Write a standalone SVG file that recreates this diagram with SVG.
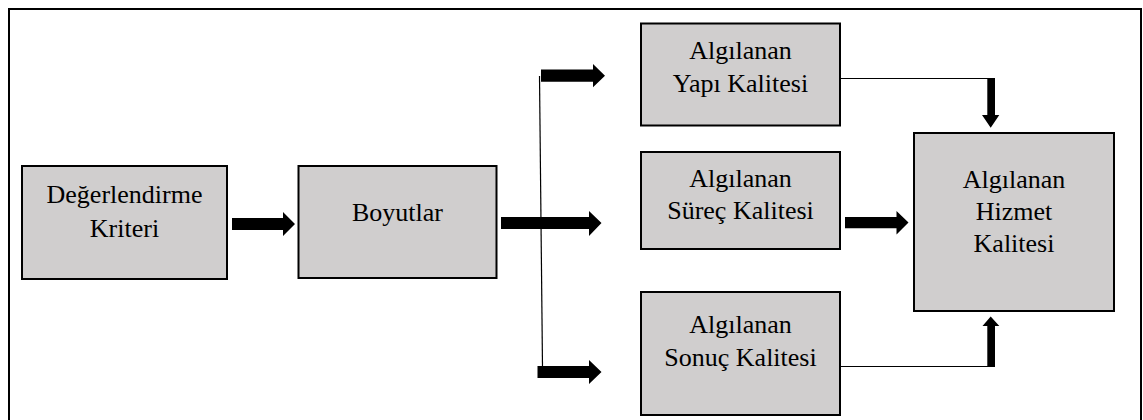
<svg xmlns="http://www.w3.org/2000/svg" width="1143" height="420" viewBox="0 0 1143 420">
  <style>
    .box { fill: #d0cece; stroke: #000; stroke-width: 2; }
    .lbl { font-size: 26px; fill: #000; text-anchor: middle; }
    .thin { stroke: #000; stroke-width: 1.2; fill: none; }
    .blk { fill: #000; stroke: none; }
  </style>
  <rect width="1143" height="420" fill="#fff"/>
  <!-- frame -->
  <rect x="9" y="9" width="1132" height="440" fill="none" stroke="#000" stroke-width="2"/>

  <g font-family="Liberation Serif, DejaVu Serif, serif">
  <g id="degerlendirme">
    <rect class="box" x="22" y="166" width="205" height="113"/>
    <text class="lbl" x="124.5" y="203">Değerlendirme</text>
    <text class="lbl" x="124.5" y="237">Kriteri</text>
  </g>
  <g id="boyutlar">
    <rect class="box" x="298.5" y="166" width="198" height="112"/>
    <text class="lbl" x="397.5" y="221">Boyutlar</text>
  </g>
  <g id="yapi">
    <rect class="box" x="641" y="23.5" width="199" height="102"/>
    <text class="lbl" x="740.5" y="59">Algılanan</text>
    <text class="lbl" x="740.5" y="92">Yapı Kalitesi</text>
  </g>
  <g id="surec">
    <rect class="box" x="641" y="152" width="199" height="97"/>
    <text class="lbl" x="740.5" y="187">Algılanan</text>
    <text class="lbl" x="740.5" y="219">Süreç Kalitesi</text>
  </g>
  <g id="sonuc">
    <rect class="box" x="641" y="292" width="199" height="123"/>
    <text class="lbl" x="740.5" y="333">Algılanan</text>
    <text class="lbl" x="740.5" y="366">Sonuç Kalitesi</text>
  </g>
  <g id="hizmet">
    <rect class="box" x="914" y="133" width="200" height="178"/>
    <text class="lbl" x="1014" y="188">Algılanan</text>
    <text class="lbl" x="1014" y="220">Hizmet</text>
    <text class="lbl" x="1014" y="252">Kalitesi</text>
  </g>
  </g>

  <g id="connectors">
    <!-- thin branch lines -->
    <line class="thin" x1="539.5" y1="76" x2="542.5" y2="367"/>
    <line class="thin" x1="840" y1="78.5" x2="991" y2="78.5"/>
    <line class="thin" x1="840" y1="366.5" x2="991" y2="366.5"/>
    <!-- block arrows -->
    <polygon class="blk" points="232,218 283,218 283,212 295,224 283,236 283,230 232,230"/>
    <polygon class="blk" points="501,217 589,217 589,211 601.5,223 589,236 589,229 501,229"/>
    <polygon class="blk" points="541,69.5 593,69.5 593,64 605,75.7 593,87.3 593,81.7 541,81.7"/>
    <polygon class="blk" points="537.5,366 589,366 589,360 601.5,372 589,384 589,378 537.5,378"/>
    <polygon class="blk" points="845,217 896.5,217 896.5,211 908.5,222.5 896.5,234.5 896.5,228.3 845,228.3"/>
    <polygon class="blk" points="987.3,78 995,78 995,115 999.3,115 990.7,127.7 982,115 987.3,115"/>
    <polygon class="blk" points="987.3,367 995,367 995,326 999.3,326 990.7,316.5 982.5,326 987.3,326"/>
  </g>
</svg>
